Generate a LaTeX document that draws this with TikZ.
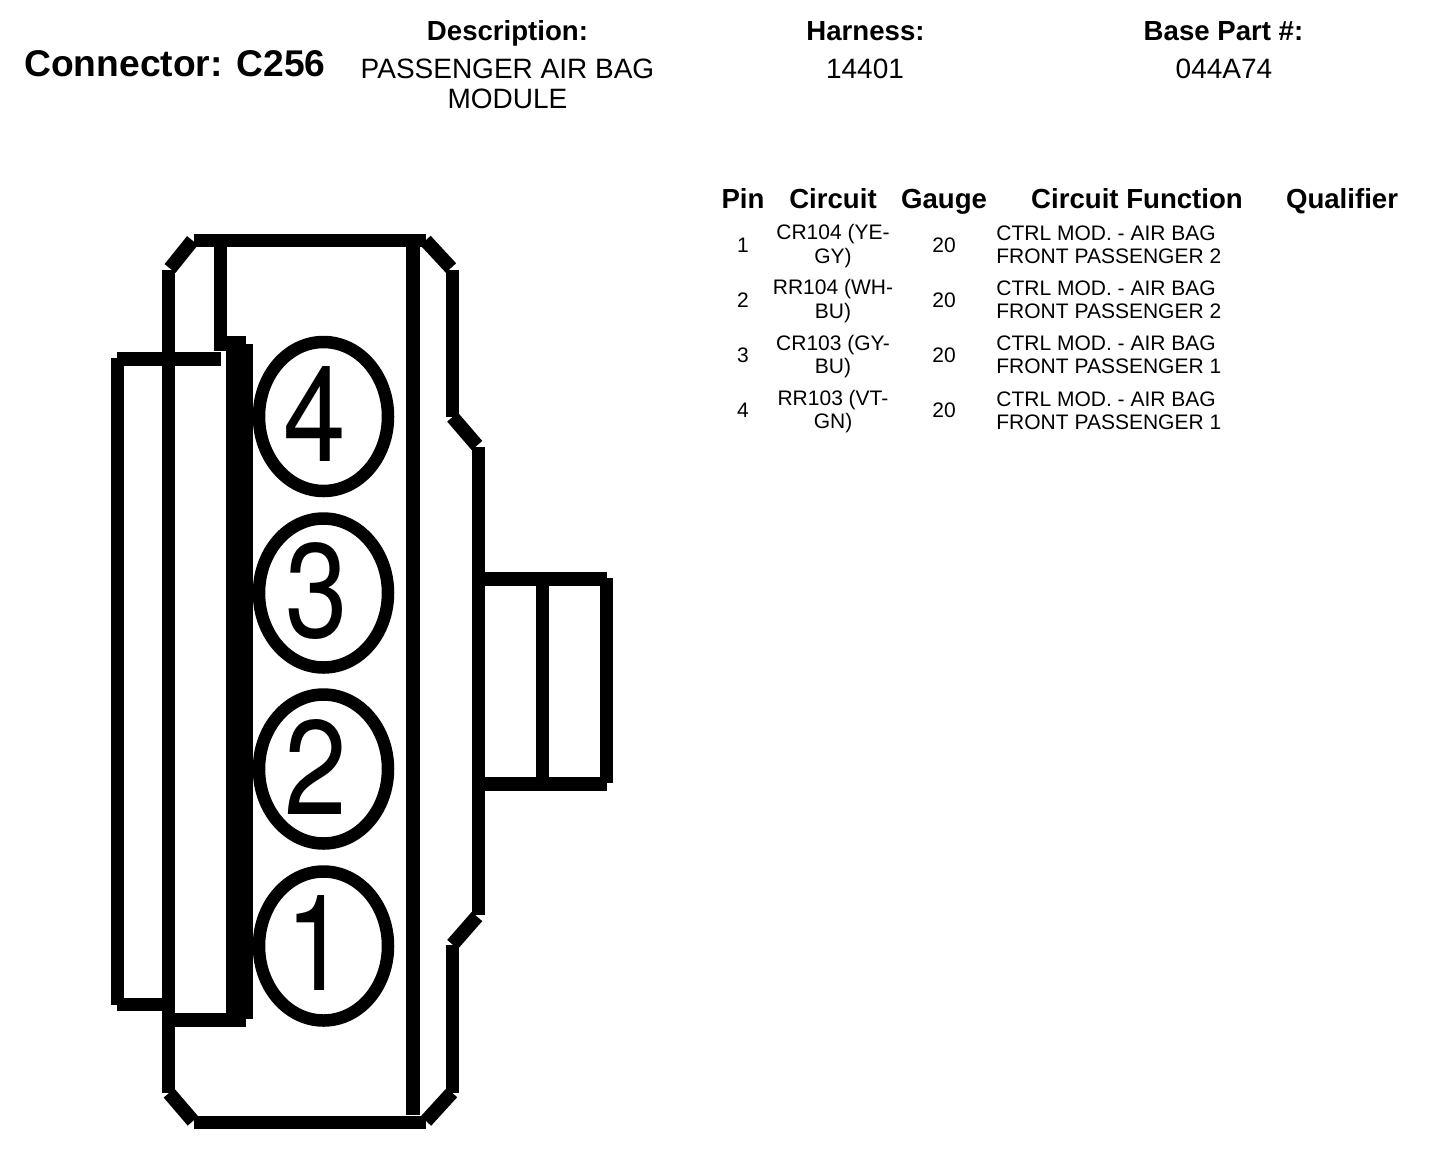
\documentclass[tikz,border=0pt]{standalone}
\usepackage{fontspec}
\setmainfont{Liberation Sans}
\newfontfamily\pinfont{TeX Gyre Heros}
\usetikzlibrary{shapes.geometric}
\tikzstyle{wall} = [line width=6.5pt, black]
\tikzstyle{bevel} = [line width=7pt, black]
\tikzstyle{cavity} = [line width=6.25pt, black, draw, ellipse, inner sep=0pt, minimum width=64.5pt, minimum height=74.5pt]
\tikzstyle{pinnum} = [inner sep=0pt, xscale=.84, transform shape, font=\pinfont\fontsize{67}{67}\selectfont]
\tikzstyle{title} = [inner sep=0pt, anchor=base west, font=\fontsize{18.6}{22}\selectfont\bfseries]
\tikzstyle{head} = [inner sep=0pt, anchor=base, font=\fontsize{13.8}{15}\selectfont\bfseries]
\tikzstyle{info} = [inner sep=0pt, align=center, font=\fontsize{14}{15}\selectfont]
\tikzstyle{cell} = [inner sep=0pt, align=center, font=\fontsize{10.5}{11.6}\selectfont]
\tikzstyle{func} = [inner sep=0pt, align=left, anchor=west, font=\fontsize{10.5}{11.6}\selectfont]
\begin{document}
\begin{tikzpicture}[x=0.5pt, y=-0.5pt]
    \useasboundingbox (0,0) rectangle (1456,1152);

    % heading
    \node (conn) [title] at (24,76) {Connector: C256};
    \node (desc_head) [head] at (507.5,40) {Description:};
    \node (desc) [info] at (507.5,84) {PASSENGER AIR BAG\\MODULE};
    \node (harn_head) [head] at (865.5,40) {Harness:};
    \node (harn) [info] at (865,69) {14401};
    \node (base_head) [head] at (1223.5,40) {Base Part \#:};
    \node (base) [info] at (1224,69) {044A74};

    % table
    \node (pin_head) [head] at (743,208) {Pin};
    \node (circ_head) [head] at (833,208) {Circuit};
    \node (gauge_head) [head] at (944,208) {Gauge};
    \node (func_head) [head] at (1137,208) {Circuit Function};
    \node (qual_head) [head] at (1342,208) {Qualifier};

    \node (pin1) [cell] at (743,245) {1};
    \node (circ1) [cell] at (833,246) {CR104 (YE-\\GY)};
    \node (gauge1) [cell] at (944,245) {20};
    \node (func1) [func] at (996,245) {CTRL MOD. - AIR BAG\\FRONT PASSENGER 2};
    \node (pin2) [cell] at (743,300) {2};
    \node (circ2) [cell] at (833,301) {RR104 (WH-\\BU)};
    \node (gauge2) [cell] at (944,300) {20};
    \node (func2) [func] at (996,300) {CTRL MOD. - AIR BAG\\FRONT PASSENGER 2};
    \node (pin3) [cell] at (743,355) {3};
    \node (circ3) [cell] at (833,356.5) {CR103 (GY-\\BU)};
    \node (gauge3) [cell] at (944,355) {20};
    \node (func3) [func] at (996,355) {CTRL MOD. - AIR BAG\\FRONT PASSENGER 1};
    \node (pin4) [cell] at (743,410) {4};
    \node (circ4) [cell] at (833,411.5) {RR103 (VT-\\GN)};
    \node (gauge4) [cell] at (944,410) {20};
    \node (func4) [func] at (996,410.5) {CTRL MOD. - AIR BAG\\FRONT PASSENGER 1};

    % housing
    \draw [wall] (194,240.5) -- (426,240.5);
    \draw [wall] (194,1122) -- (426,1122);
    \draw [wall] (168.5,270) -- (168.5,1093);
    \draw [bevel] (170,268.5) -- (192.5,240.5);
    \draw [bevel] (169,1093) -- (193,1121);
    \draw [bevel] (451,268) -- (425.5,240.5);
    \draw [bevel] (452,1092.5) -- (426,1121);
    \draw [wall] (452,270) -- (452,417);
    \draw [bevel] (452.5,417) -- (477,445.5);
    \draw [wall] (478.5,447) -- (478.5,915);
    \draw [bevel] (477,916.5) -- (452.5,944.5);
    \draw [wall] (452,945) -- (452,1093);
    \draw [bevel] (413,247) -- (413,1115);
    \draw [wall] (220.5,247) -- (220.5,351);

    % latch
    \fill [black] (226,336) rectangle (246,1027);
    \fill [black] (226,344) rectangle (253,1019);
    \draw [wall] (117,358) -- (117,1005);
    \draw [bevel] (117,358.5) -- (221,358.5);
    \draw [wall] (117,1004.5) -- (175,1004.5);
    \draw [bevel] (162,1019.5) -- (246,1019.5);

    % tab
    \draw [bevel] (485,578.5) -- (607,578.5);
    \draw [bevel] (485,784) -- (607,784);
    \draw [wall] (606.5,578) -- (606.5,783);
    \draw [wall] (542.5,586) -- (542.5,777);

    % cavities
    \node (cav4) [cavity] at (323.5,416.5) {};
    \node (cav3) [cavity] at (323.5,593) {};
    \node (cav2) [cavity] at (323.5,769) {};
    \node (cav1) [cavity] at (323.5,946) {};
    \node (num4) [pinnum] at (315,414) {4};
    \node (num3) [pinnum] at (316.5,590.5) {3};
    \node (num2) [pinnum] at (315.5,766.5) {2};
    \node (num1) [pinnum] at (317,942.5) {1};
\end{tikzpicture}
\end{document}
